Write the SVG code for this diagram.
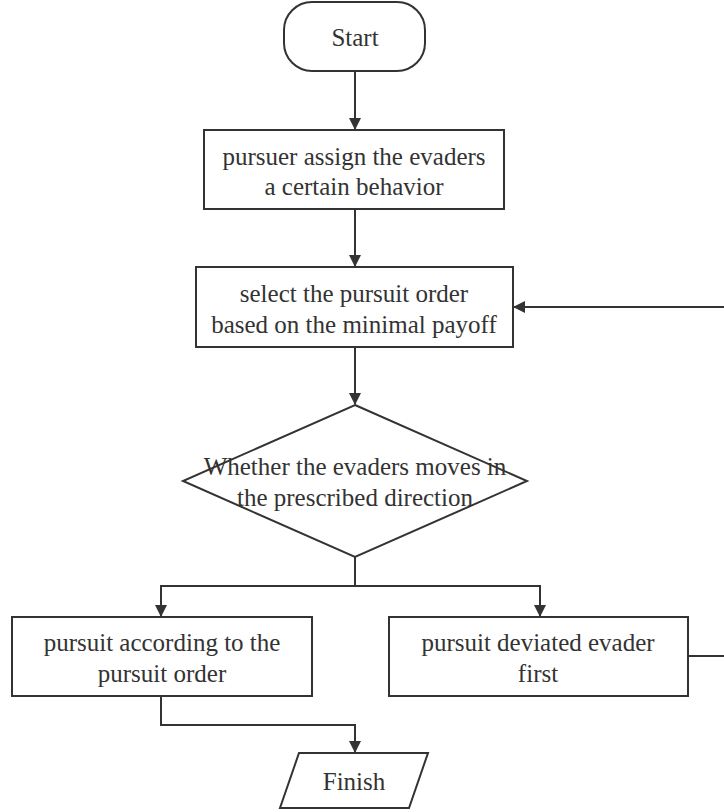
<svg xmlns="http://www.w3.org/2000/svg" width="724" height="812" viewBox="0 0 724 812">
<style>
.n{fill:#fff;stroke:#333;stroke-width:2}
.t{font-family:'Liberation Serif','Times New Roman',serif;font-size:25px;fill:#333;text-anchor:middle}
.c{fill:none;stroke:#333;stroke-width:2}
</style>
<defs>
<marker id="a" markerWidth="12" markerHeight="12" refX="11" refY="6" orient="auto" markerUnits="userSpaceOnUse">
<path d="M0,0 L12,6 L0,12 Z" fill="#333"/>
</marker>
</defs>
<rect width="724" height="812" fill="#fff"/>
<g id="connectors">
<path class="c" d="M355,71 V129" marker-end="url(#a)"/>
<path class="c" d="M355,209 V266" marker-end="url(#a)"/>
<path class="c" d="M355,347 V404" marker-end="url(#a)"/>
<path class="c" d="M355,557 V586 H161 V616" marker-end="url(#a)"/>
<path class="c" d="M355,586 H540 V616" marker-end="url(#a)"/>
<path class="c" d="M161,696 V725 H355 V752" marker-end="url(#a)"/>
<path class="c" d="M688,656 H730 V307 H514" marker-end="url(#a)"/>
</g>
<g id="start">
<rect class="n" x="284" y="2" width="141" height="69" rx="28"/>
<text class="t" x="355" y="46">Start</text>
</g>
<g id="assign">
<rect class="n" x="204" y="130" width="300" height="79"/>
<text class="t" x="354" y="165">pursuer assign the evaders</text>
<text class="t" x="354" y="195">a certain behavior</text>
</g>
<g id="select">
<rect class="n" x="196" y="267" width="317" height="80"/>
<text class="t" x="354" y="302">select the pursuit order</text>
<text class="t" x="354" y="333">based on the minimal payoff</text>
</g>
<g id="decision">
<polygon class="n" points="355,405 527,481 355,557 183,481"/>
<text class="t" x="355" y="475">Whether the evaders moves in</text>
<text class="t" x="355" y="506">the prescribed direction</text>
</g>
<g id="order">
<rect class="n" x="12" y="617" width="300" height="79"/>
<text class="t" x="162" y="651">pursuit according to the</text>
<text class="t" x="162" y="682">pursuit order</text>
</g>
<g id="deviated">
<rect class="n" x="389" y="617" width="299" height="79"/>
<text class="t" x="538" y="651">pursuit deviated evader</text>
<text class="t" x="538" y="682">first</text>
</g>
<g id="finish">
<polygon class="n" points="299,753 428,753 409,808 280,808"/>
<text class="t" x="354" y="790">Finish</text>
</g>
</svg>
